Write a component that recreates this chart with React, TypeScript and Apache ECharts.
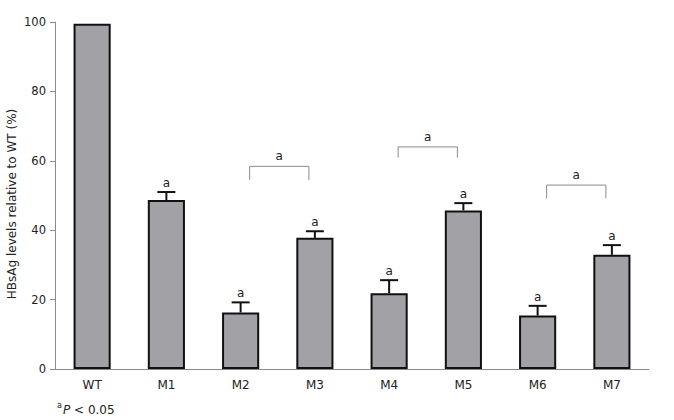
import React, { useEffect, useRef } from "react";
import * as echarts from "echarts";

const categories = ["WT", "M1", "M2", "M3", "M4", "M5", "M6", "M7"];
const values = [99.5, 48.7, 16.3, 37.8, 21.8, 45.7, 15.4, 32.9];
const errors = [0, 2.3, 2.9, 1.9, 3.8, 2.1, 2.8, 2.8];
const sigMarks = ["", "a", "a", "a", "a", "a", "a", "a"];
// brackets: [leftIndex, rightIndex, topValue, bottomValue]
const brackets = [
  [2, 3, 58.4, 54.5],
  [4, 5, 64.0, 60.9],
  [6, 7, 53.0, 49.2],
];
const yTicks = [0, 20, 40, 60, 80, 100];
const yTitle = "HBsAg levels relative to WT (%)";

const FONT = "DejaVu Sans";

export default function App() {
  const ref = useRef<HTMLDivElement>(null);
  useEffect(() => {
    const chart = echarts.init(ref.current!, undefined, { renderer: "svg" });
    chart.setOption({
      animation: false,
      backgroundColor: "#ffffff",
      textStyle: { fontFamily: FONT },
      grid: {
        left: 55,
        right: 25,
        top: 22,
        bottom: 51,
        containLabel: false,
        outerBoundsMode: "none",
      },
      xAxis: {
        type: "category",
        data: categories,
        axisLine: { lineStyle: { color: "#8a8a8a", width: 1 } },
        axisTick: { alignWithLabel: true, length: 5, lineStyle: { color: "#8a8a8a" } },
        axisLabel: { color: "#222", fontSize: 12, fontFamily: FONT, margin: 10 },
      },
      yAxis: {
        type: "value",
        min: yTicks[0],
        max: yTicks[yTicks.length - 1],
        interval: 20,
        axisLine: { show: true, lineStyle: { color: "#8a8a8a", width: 1 } },
        axisTick: { show: true, length: 5, lineStyle: { color: "#8a8a8a" } },
        axisLabel: { color: "#222", fontSize: 11.5, fontFamily: FONT, margin: 9 },
        splitLine: { show: false },
      },
      series: [
        {
          type: "bar",
          data: values,
          barWidth: "50%",
          itemStyle: { color: "#a1a1a6", borderColor: "#111", borderWidth: 2 },
          z: 2,
        },
        {
          type: "custom",
          data: values.map((v, i) => [i, v, v + errors[i]]),
          z: 3,
          renderItem: (params: any, api: any) => {
            const i = api.value(0);
            const v = api.value(1);
            const hi = api.value(2);
            const mark = sigMarks[i];
            const p0 = api.coord([i, v]);
            const p1 = api.coord([i, hi]);
            const children: any[] = [];
            if (hi > v) {
              children.push({
                type: "line",
                shape: { x1: p0[0], y1: p0[1], x2: p1[0], y2: p1[1] },
                style: { stroke: "#111", lineWidth: 2 },
              });
              children.push({
                type: "line",
                shape: { x1: p1[0] - 9, y1: p1[1], x2: p1[0] + 9, y2: p1[1] },
                style: { stroke: "#111", lineWidth: 2 },
              });
            }
            if (mark) {
              children.push({
                type: "text",
                x: p1[0],
                y: p1[1] - 3,
                style: {
                  text: mark,
                  fontSize: 12,
                  fontFamily: FONT,
                  fill: "#222",
                  align: "center",
                  verticalAlign: "bottom",
                },
              });
            }
            return { type: "group", children };
          },
        },
        {
          type: "custom",
          data: brackets,
          z: 3,
          renderItem: (params: any, api: any) => {
            const l = api.value(0);
            const r = api.value(1);
            const top = api.value(2);
            const bot = api.value(3);
            const pl = api.coord([l, top]);
            const pr = api.coord([r, top]);
            const bl = api.coord([l, bot]);
            const x1 = pl[0] + 9;
            const x2 = pr[0] - 6;
            return {
              type: "group",
              children: [
                {
                  type: "polyline",
                  shape: {
                    points: [
                      [x1, bl[1]],
                      [x1, pl[1]],
                      [x2, pl[1]],
                      [x2, bl[1]],
                    ],
                  },
                  style: { stroke: "#8a8a8a", lineWidth: 1, fill: "none" },
                },
                {
                  type: "text",
                  x: (x1 + x2) / 2,
                  y: pl[1] - 4,
                  style: {
                    text: "a",
                    fontSize: 12,
                    fontFamily: FONT,
                    fill: "#222",
                    align: "center",
                    verticalAlign: "bottom",
                  },
                },
              ],
            };
          },
        },
      ],
      graphic: [
        {
          type: "text",
          x: 12,
          y: 204,
          rotation: Math.PI / 2,
          style: {
            text: yTitle,
            fontSize: 12,
            fontFamily: FONT,
            fill: "#222",
            align: "center",
            verticalAlign: "middle",
          },
        },
        {
          type: "text",
          x: 57,
          y: 401,
          style: { text: "a", fontSize: 8, fontFamily: FONT, fill: "#222", verticalAlign: "top" },
        },
        {
          type: "text",
          x: 63,
          y: 410,
          style: {
            text: "{it|P} < 0.05",
            fontSize: 12,
            fontFamily: FONT,
            fill: "#222",
            verticalAlign: "middle",
            rich: { it: { fontStyle: "italic", fontSize: 12, fontFamily: FONT, fill: "#222" } },
          },
        },
      ],
    });
    return () => chart.dispose();
  }, []);
  return (
    <div
      ref={ref}
      style={{ position: "fixed", left: 0, top: 0, width: 674, height: 420 }}
    />
  );
}
